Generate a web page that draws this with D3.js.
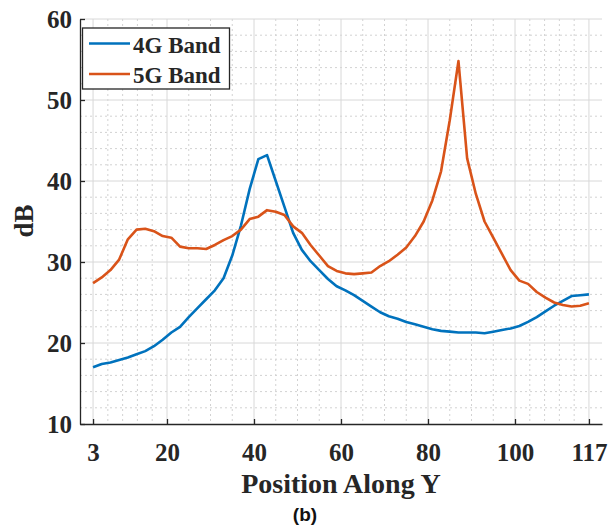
<!DOCTYPE html>
<html lang="en">

<head>
    <meta charset="UTF-8">
    <meta name="viewport" content="width=device-width, initial-scale=1.0">
    <script src="https://cdn.jsdelivr.net/npm/d3@7"></script>
    <title>4G / 5G Band</title>
    <style>
        body {
            margin: 0;
            background: white;
        }

        .tick text {
            font-family: "Liberation Serif", "Times New Roman", serif;
            font-weight: bold;
            font-size: 25px;
            fill: #262626;
        }

        .axis path,
        .axis line {
            stroke: #262626;
            stroke-width: 1.3px;
        }
    </style>
</head>

<body>
    <div id="chart"></div>

    <script>
        /*------------------- data --------------------*/
        const positions = [3, 5, 7, 9, 11, 13, 15, 17, 19, 21, 23, 25, 27, 29, 31, 33, 35, 37, 39, 41,
            43, 45, 47, 49, 51, 53, 55, 57, 59, 61, 63, 65, 67, 69, 71, 73, 75, 77, 79, 81,
            83, 85, 87, 89, 91, 93, 95, 97, 99, 101, 103, 105, 107, 109, 111, 113, 115, 117];

        const band4G = [17.0, 17.4, 17.6, 17.9, 18.2, 18.6, 19.0, 19.6, 20.4, 21.3,
            22.0, 23.2, 24.3, 25.4, 26.5, 28.0, 30.8, 34.5, 39.0, 42.7,
            43.2, 40.0, 36.8, 33.6, 31.5, 30.1, 29.0, 27.9, 27.0, 26.5,
            25.9, 25.2, 24.5, 23.8, 23.3, 23.0, 22.6, 22.3, 22.0, 21.7,
            21.5, 21.4, 21.3, 21.3, 21.3, 21.2, 21.4, 21.6, 21.8, 22.1,
            22.6, 23.2, 23.9, 24.6, 25.2, 25.8, 25.9, 26.0];

        const band5G = [27.4, 28.1, 29.0, 30.3, 32.8, 34.0, 34.1, 33.8, 33.2, 33.0,
            31.9, 31.7, 31.7, 31.6, 32.1, 32.7, 33.2, 34.0, 35.3, 35.6,
            36.4, 36.2, 35.8, 34.4, 33.6, 32.1, 30.8, 29.5, 28.9, 28.6,
            28.5, 28.6, 28.7, 29.5, 30.1, 30.9, 31.8, 33.2, 35.0, 37.6,
            41.2, 47.5, 54.8, 42.8, 38.4, 35.0, 33.0, 31.0, 29.0, 27.7,
            27.3, 26.3, 25.6, 25.0, 24.7, 24.5, 24.6, 24.9];

        const seriesNames = ["4G Band", "5G Band"];
        const seriesColors = ["#0072BD", "#D95319"];

        const xTicks = [3, 20, 40, 60, 80, 100, 117];
        const xMinor = [6.4, 9.8, 13.2, 16.6, 25, 30, 35, 45, 50, 55, 65, 70, 75, 85, 90, 95, 103.4, 106.8, 110.2, 113.6];
        const yTicks = [10, 20, 30, 40, 50, 60];
        const yMinor = [12, 14, 16, 18, 22, 24, 26, 28, 32, 34, 36, 38, 42, 44, 46, 48, 52, 54, 56, 58];

        /*------------------- setup --------------------*/
        const width = 611, height = 527;
        const plotLeft = 80, plotRight = 602, plotTop = 19, plotBottom = 424;
        const serif = '"Liberation Serif", "Times New Roman", serif';

        const svg = d3.select("#chart").append("svg")
            .attr("width", width)
            .attr("height", height);

        const x = d3.scaleLinear().domain([0, 120]).range([plotLeft, plotRight]);
        const y = d3.scaleLinear().domain([10, 60]).range([plotBottom, plotTop]);

        // grid: minor dotted first, then major solid
        const grid = svg.append("g");
        grid.selectAll(".vminor").data(xMinor).enter().append("line")
            .attr("x1", d => x(d)).attr("x2", d => x(d))
            .attr("y1", plotTop).attr("y2", plotBottom)
            .attr("stroke", "#d2d2d2").attr("stroke-dasharray", "2,3");
        grid.selectAll(".hminor").data(yMinor).enter().append("line")
            .attr("x1", plotLeft).attr("x2", plotRight)
            .attr("y1", d => y(d)).attr("y2", d => y(d))
            .attr("stroke", "#d2d2d2").attr("stroke-dasharray", "2,3");
        grid.selectAll(".vmajor").data(xTicks).enter().append("line")
            .attr("x1", d => x(d)).attr("x2", d => x(d))
            .attr("y1", plotTop).attr("y2", plotBottom)
            .attr("stroke", "#d8d8d8");
        grid.selectAll(".hmajor").data(yTicks.slice(1)).enter().append("line")
            .attr("x1", plotLeft).attr("x2", plotRight)
            .attr("y1", d => y(d)).attr("y2", d => y(d))
            .attr("stroke", "#d8d8d8");

        // lines
        const lineGen = d3.line()
            .x((d, i) => x(positions[i]))
            .y(d => y(d));

        [band4G, band5G].forEach((vals, k) => {
            svg.append("path")
                .datum(vals)
                .attr("d", lineGen)
                .attr("fill", "none")
                .attr("stroke", seriesColors[k])
                .attr("stroke-width", 2.6)
                .attr("stroke-linejoin", "round");
        });

        // axes (ticks pointing inwards like matlab)
        svg.append("g")
            .attr("class", "axis")
            .attr("transform", `translate(0,${plotBottom})`)
            .call(d3.axisBottom(x).tickValues(xTicks).tickSizeInner(-5).tickSizeOuter(0).tickPadding(19));

        svg.append("g")
            .attr("class", "axis")
            .attr("transform", `translate(${plotLeft},0)`)
            .call(d3.axisLeft(y).tickValues(yTicks).tickSizeInner(-5).tickSizeOuter(0).tickPadding(8));

        // axis labels
        svg.append("text")
            .attr("x", (plotLeft + plotRight) / 2)
            .attr("y", 493)
            .attr("text-anchor", "middle")
            .style("font-family", serif)
            .style("font-weight", "bold")
            .style("font-size", "28px")
            .style("fill", "#262626")
            .text("Position Along Y");

        svg.append("text")
            .attr("transform", "translate(33,221) rotate(-90)")
            .attr("text-anchor", "middle")
            .style("font-family", serif)
            .style("font-weight", "bold")
            .style("font-size", "27px")
            .style("fill", "#262626")
            .text("dB");

        svg.append("text")
            .attr("x", 305)
            .attr("y", 521)
            .attr("text-anchor", "middle")
            .style("font-family", '"Liberation Sans", Arial, sans-serif')
            .style("font-weight", "bold")
            .style("font-size", "19px")
            .style("fill", "#111")
            .text("(b)");

        // legend
        const legend = svg.append("g");
        legend.append("rect")
            .attr("x", 82.5).attr("y", 28)
            .attr("width", 147).attr("height", 61)
            .attr("fill", "white")
            .attr("stroke", "#262626")
            .attr("stroke-width", 1.3);

        seriesNames.forEach((name, k) => {
            const ly = 43.5 + k * 30.5;
            legend.append("line")
                .attr("x1", 89).attr("x2", 130)
                .attr("y1", ly).attr("y2", ly)
                .attr("stroke", seriesColors[k])
                .attr("stroke-width", 2.6);
            legend.append("text")
                .attr("x", 133)
                .attr("y", ly + 9)
                .style("font-family", serif)
                .style("font-weight", "bold")
                .style("font-size", "23px")
                .style("fill", "#262626")
                .text(name);
        });
    </script>
</body>

</html>
